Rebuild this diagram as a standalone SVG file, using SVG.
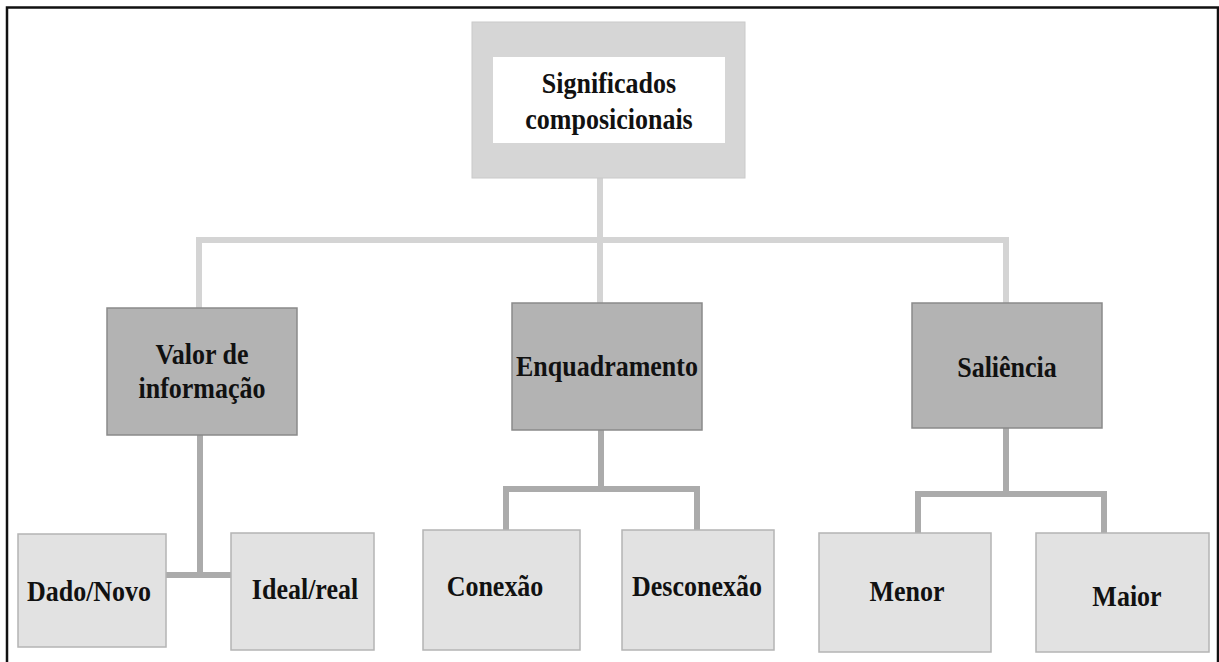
<svg xmlns="http://www.w3.org/2000/svg" width="1219" height="662" viewBox="0 0 1219 662">
<style>
.t{font-family:"Liberation Serif","Times New Roman",serif;font-weight:bold;font-size:26px;fill:#111;text-anchor:middle}
.l2{fill:#b3b3b3;stroke:#8a8a8a;stroke-width:1.5}
.l3{fill:#e2e2e2;stroke:#b4b4b4;stroke-width:1.5}
.cu{stroke:#d4d4d4;stroke-width:6;fill:none;stroke-linejoin:miter}
.cl{stroke:#ababab;stroke-width:6;fill:none;stroke-linejoin:miter}
</style>
<rect x="0" y="0" width="1219" height="662" fill="#fff"/>
<path d="M7 662 V7.5 H1218 V662" fill="none" stroke="#111" stroke-width="2.5"/>
<g id="connectors">
<path class="cu" d="M600 178 V303"/>
<path class="cu" d="M199 308 V240 H1006 V303"/>
<path class="cl" d="M200 435 V575"/>
<path class="cl" d="M166 575 H231" stroke-width="7"/>
<path class="cl" d="M601 430 V489"/>
<path class="cl" d="M506 530 V489 H697 V530"/>
<path class="cl" d="M1006 428 V494"/>
<path class="cl" d="M918 533 V494 H1104 V533"/>
</g>
<g id="root">
<rect x="472" y="22" width="273" height="156" fill="#d6d6d6" stroke="#cacaca" stroke-width="1"/>
<rect x="493" y="57" width="232" height="86" fill="#fff"/>
<text class="t" transform="translate(609 93) scale(1 1.15)">Significados</text>
<text class="t" transform="translate(609 129) scale(1 1.15)">composicionais</text>
</g>
<g id="valor">
<rect class="l2" x="107" y="308" width="190" height="127"/>
<text class="t" transform="translate(202 364) scale(1 1.15)">Valor de</text>
<text class="t" transform="translate(202 398) scale(1 1.15)">informação</text>
</g>
<g id="enquadramento">
<rect class="l2" x="512" y="303" width="190" height="127"/>
<text class="t" transform="translate(607 376) scale(1 1.15)">Enquadramento</text>
</g>
<g id="saliencia">
<rect class="l2" x="912" y="303" width="190" height="125"/>
<text class="t" transform="translate(1007 377) scale(1 1.15)">Saliência</text>
</g>
<g id="dado">
<rect class="l3" x="18" y="534" width="148" height="113"/>
<text class="t" transform="translate(89 601) scale(1 1.15)">Dado/Novo</text>
</g>
<g id="ideal">
<rect class="l3" x="231" y="533" width="143" height="117"/>
<text class="t" transform="translate(305 599) scale(1 1.15)">Ideal/real</text>
</g>
<g id="conexao">
<rect class="l3" x="423" y="530" width="157" height="120"/>
<text class="t" transform="translate(495 596) scale(1 1.15)">Conexão</text>
</g>
<g id="desconexao">
<rect class="l3" x="622" y="530" width="152" height="120"/>
<text class="t" transform="translate(697 596) scale(1 1.15)">Desconexão</text>
</g>
<g id="menor">
<rect class="l3" x="819" y="533" width="172" height="119"/>
<text class="t" transform="translate(907 601) scale(1 1.15)">Menor</text>
</g>
<g id="maior">
<rect class="l3" x="1036" y="533" width="173" height="119"/>
<text class="t" transform="translate(1127 606) scale(1 1.15)">Maior</text>
</g>
</svg>
